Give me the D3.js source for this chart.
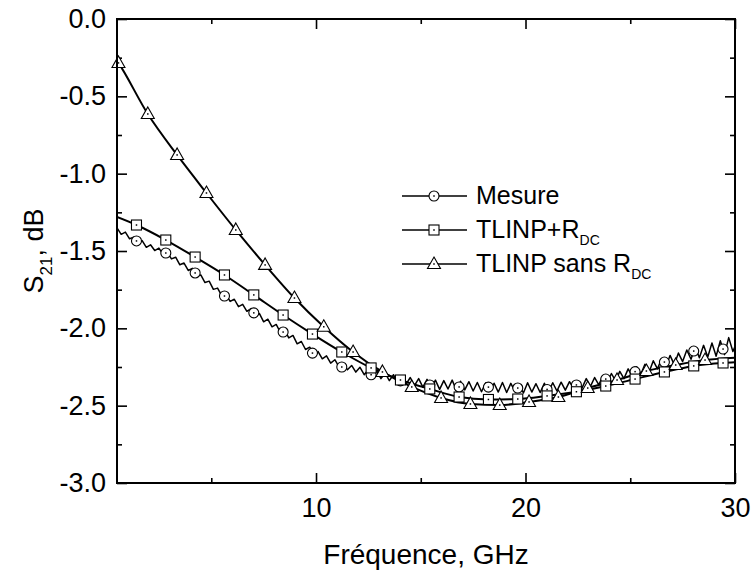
<!DOCTYPE html>
<html><head><meta charset="utf-8">
<script src="https://cdn.jsdelivr.net/npm/d3@7"></script>
<style>body{margin:0;background:#fff} text{font-family:Arial,"Liberation Sans",sans-serif;fill:#000}</style>
</head><body><svg id="c" width="752" height="570"></svg>
<script>
// ---- data ----
const xMajorTicks = [10, 20, 30];
const xMinorTicks = [5, 15, 25];
const yMajorTicks = [0, -0.5, -1, -1.5, -2, -2.5, -3];
const yMinorTicks = [-0.25, -0.75, -1.25, -1.75, -2.25, -2.75];

// measured S21 sampled every 0.2 GHz from 0.5 GHz
const mesureStart = 0.5, mesureStep = 0.2;
const mesureValues = [
-1.350,-1.392,-1.378,-1.421,-1.410,-1.447,-1.433,-1.476,-1.460,-1.497,
-1.481,-1.522,-1.509,-1.551,-1.540,-1.589,-1.578,-1.626,-1.612,-1.661,
-1.655,-1.704,-1.695,-1.748,-1.740,-1.789,-1.780,-1.826,-1.812,-1.860,
-1.845,-1.890,-1.872,-1.921,-1.905,-1.958,-1.941,-1.990,-1.975,-2.027,
-2.010,-2.062,-2.046,-2.100,-2.085,-2.137,-2.122,-2.171,-2.150,-2.197,
-2.178,-2.225,-2.203,-2.250,-2.226,-2.268,-2.240,-2.283,-2.252,-2.300,
-2.266,-2.312,-2.276,-2.325,-2.290,-2.338,-2.300,-2.350,-2.310,-2.361,
-2.318,-2.370,-2.325,-2.380,-2.330,-2.388,-2.335,-2.395,-2.338,-2.392,
-2.335,-2.400,-2.342,-2.398,-2.345,-2.405,-2.350,-2.410,-2.352,-2.408,
-2.355,-2.412,-2.350,-2.415,-2.356,-2.410,-2.360,-2.418,-2.352,-2.412,
-2.358,-2.415,-2.355,-2.410,-2.352,-2.405,-2.348,-2.400,-2.345,-2.392,
-2.338,-2.385,-2.325,-2.375,-2.318,-2.365,-2.305,-2.352,-2.292,-2.340,
-2.278,-2.325,-2.262,-2.312,-2.248,-2.298,-2.232,-2.282,-2.210,-2.262,
-2.195,-2.248,-2.175,-2.235,-2.160,-2.215,-2.140,-2.200,-2.120,-2.190,
-2.110,-2.185,-2.095,-2.180,-2.080,-2.170,-2.060,-2.150,-2.085];

// marker frequencies (GHz)
const markerFreqA = [1.43,2.83,4.23,5.63,7.03,8.43,9.83,11.23,12.63,14.03,15.43,16.83,18.23,19.63,21.03,22.43,23.83,25.23,26.63,28.03,29.43];
const markerFreqB = [0.57,1.97,3.37,4.77,6.17,7.57,8.97,10.37,11.77,13.17,14.57,15.97,17.37,18.77,20.17,21.57,22.97,24.37,25.77,27.17,28.57];

const mesureMarkers = [-1.435,-1.513,-1.642,-1.791,-1.900,-2.024,-2.160,-2.250,-2.300,-2.340,-2.366,-2.379,-2.380,-2.386,-2.395,-2.366,-2.328,-2.280,-2.218,-2.147,-2.134];

const rdcStart = -1.28, rdcEnd = -2.22;
const rdcValues = [-1.332,-1.429,-1.539,-1.655,-1.784,-1.914,-2.037,-2.153,-2.256,-2.334,-2.392,-2.444,-2.460,-2.457,-2.437,-2.410,-2.373,-2.328,-2.282,-2.243,-2.224];

const sansStart = -0.27, sansEnd = -2.19;
const sansValues = [-0.284,-0.614,-0.879,-1.125,-1.364,-1.590,-1.804,-1.990,-2.153,-2.282,-2.379,-2.450,-2.489,-2.496,-2.476,-2.444,-2.386,-2.334,-2.276,-2.237,-2.205];

const fMin = 0.5, fMax = 30;
const legendLabels = [["Mesure",""],["TLINP+R","DC"],["TLINP sans R","DC"]];

// ---- chart ----
const svg = d3.select("#c");
const L = 117, R = 735, T = 19, B = 483;
const x = d3.scaleLinear([fMin, fMax], [L, R]);
const y = d3.scaleLinear([-3, 0], [B, T]);

svg.append("defs").append("clipPath").attr("id","clip")
  .append("rect").attr("x",L).attr("y",T).attr("width",R-L).attr("height",B-T);

// axes
const fs = 27;
function styleAxis(g){ g.select(".domain").remove(); g.selectAll(".tick line").attr("stroke","#000").attr("stroke-width",1.6); g.selectAll("text").style("font-size",fs+"px").attr("fill","#000"); }
svg.append("g").attr("transform",`translate(0,${B})`)
  .call(d3.axisBottom(x).tickValues(xMajorTicks).tickSizeInner(-10).tickSizeOuter(0).tickPadding(15).tickFormat(d3.format("d"))).call(styleAxis);
svg.append("g").attr("transform",`translate(0,${B})`)
  .call(d3.axisBottom(x).tickValues(xMinorTicks).tickSizeInner(-5).tickSizeOuter(0).tickFormat("")).call(styleAxis);
svg.append("g").attr("transform",`translate(0,${T})`)
  .call(d3.axisTop(x).tickValues(xMajorTicks).tickSizeInner(-10).tickSizeOuter(0).tickFormat("")).call(styleAxis);
svg.append("g").attr("transform",`translate(0,${T})`)
  .call(d3.axisTop(x).tickValues(xMinorTicks).tickSizeInner(-5).tickSizeOuter(0).tickFormat("")).call(styleAxis);
svg.append("g").attr("transform",`translate(${L},0)`)
  .call(d3.axisLeft(y).tickValues(yMajorTicks).tickSizeInner(-10).tickSizeOuter(0).tickPadding(11).tickFormat(d=>d3.format(".1f")(d).replace("−","-"))).call(styleAxis);
svg.append("g").attr("transform",`translate(${L},0)`)
  .call(d3.axisLeft(y).tickValues(yMinorTicks).tickSizeInner(-5).tickSizeOuter(0).tickFormat("")).call(styleAxis);
svg.append("g").attr("transform",`translate(${R},0)`)
  .call(d3.axisRight(y).tickValues(yMajorTicks).tickSizeInner(-10).tickSizeOuter(0).tickFormat("")).call(styleAxis);
svg.append("g").attr("transform",`translate(${R},0)`)
  .call(d3.axisRight(y).tickValues(yMinorTicks).tickSizeInner(-5).tickSizeOuter(0).tickFormat("")).call(styleAxis);

// lines
const plot = svg.append("g");
const mesureData = mesureValues.map((v,i)=>[mesureStart + i*mesureStep, v]);
const rdcData = [[fMin, rdcStart]].concat(markerFreqA.map((f,i)=>[f, rdcValues[i]]), [[fMax, rdcEnd]]);
const sansData = [[fMin, sansStart]].concat(markerFreqB.map((f,i)=>[f, sansValues[i]]), [[fMax, sansEnd]]);

const lineStraight = d3.line().x(d=>x(d[0])).y(d=>y(d[1]));
const lineSmooth = d3.line().x(d=>x(d[0])).y(d=>y(d[1])).curve(d3.curveMonotoneX);

plot.append("path").datum(mesureData).attr("d",lineStraight).attr("clip-path","url(#clip)")
  .attr("fill","none").attr("stroke","#000").attr("stroke-width",1.5).attr("stroke-linejoin","round");
plot.append("path").datum(rdcData).attr("d",lineSmooth).attr("clip-path","url(#clip)")
  .attr("fill","none").attr("stroke","#000").attr("stroke-width",2);
plot.append("path").datum(sansData).attr("d",lineSmooth).attr("clip-path","url(#clip)")
  .attr("fill","none").attr("stroke","#000").attr("stroke-width",2);

// marker drawing
function marker(g, type, cx, cy){
  if(type==="circle") g.append("circle").attr("cx",cx).attr("cy",cy).attr("r",5);
  else if(type==="square") g.append("rect").attr("x",cx-5).attr("y",cy-5).attr("width",10).attr("height",10);
  else g.append("path").attr("d",`M${cx},${cy-7}L${cx+6.5},${cy+4.5}L${cx-6.5},${cy+4.5}Z`);
  g.selectAll("circle,rect,path").attr("fill","#fff").attr("stroke","#000").attr("stroke-width",1.1);
  g.append("rect").attr("x",cx-0.75).attr("y",cy-0.75).attr("width",1.5).attr("height",1.5).attr("fill","#000");
}
markerFreqA.forEach((f,i)=>marker(plot.append("g"),"circle",x(f),y(mesureMarkers[i])));
markerFreqA.forEach((f,i)=>marker(plot.append("g"),"square",x(f),y(rdcValues[i])));
markerFreqB.forEach((f,i)=>marker(plot.append("g"),"triangle",x(f),y(sansValues[i])));

// frame
svg.append("rect").attr("x",L).attr("y",T).attr("width",R-L).attr("height",B-T)
  .attr("fill","none").attr("stroke","#000").attr("stroke-width",2);

// axis titles
svg.append("text").attr("x",(L+R)/2).attr("y",564).attr("text-anchor","middle").style("font-size","28px").text("Fréquence, GHz");
const yt = svg.append("text").attr("transform",`translate(43,${(T+B)/2}) rotate(-90)`).attr("text-anchor","middle").style("font-size","27px");
yt.append("tspan").text("S");
yt.append("tspan").attr("dy",9).style("font-size","17px").text("21");
yt.append("tspan").attr("dy",-9).text(", dB");

// legend
const types = ["circle","square","triangle"];
legendLabels.forEach((lab,i)=>{
  const ly = 196 + i*34;
  const g = svg.append("g");
  g.append("line").attr("x1",402).attr("x2",467).attr("y1",ly).attr("y2",ly).attr("stroke","#000").attr("stroke-width",1.5);
  marker(g.append("g"), types[i], 434, ly);
  const t = g.append("text").attr("x",476).attr("y",ly+8).style("font-size","25px");
  t.append("tspan").text(lab[0]);
  if(lab[1]) t.append("tspan").attr("dy",7).style("font-size","14px").text(lab[1]);
});
</script></body></html>
